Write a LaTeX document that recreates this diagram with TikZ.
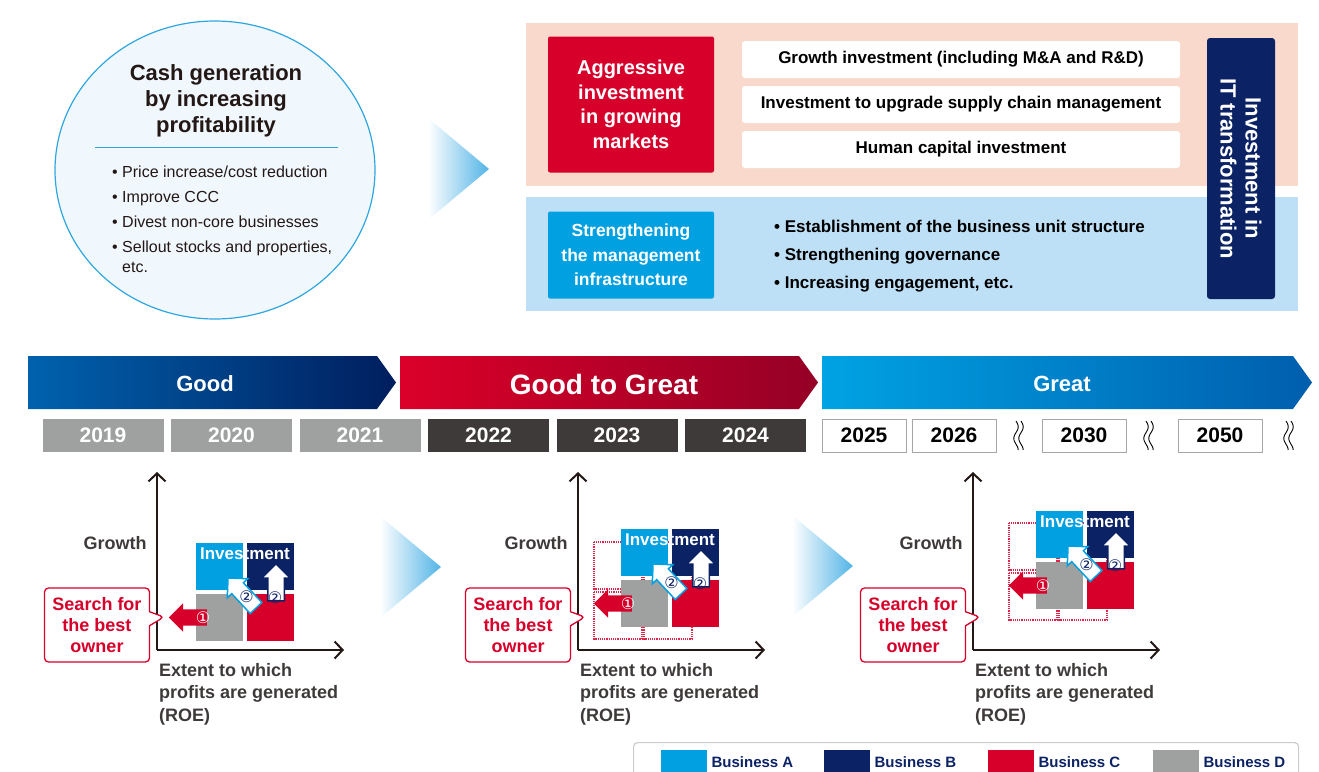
\documentclass[tikz,border=0pt]{standalone}
\usepackage{fontspec}
\setmainfont{Liberation Sans}
\newfontfamily\circnum{DejaVu Sans}
\usepackage{tikz}
\usetikzlibrary{arrows.meta,positioning,shapes.geometric,shapes.arrows,shapes.callouts}

\definecolor{bizA}{HTML}{00A0E1}
\definecolor{bizB}{HTML}{0B2265}
\definecolor{bizC}{HTML}{D7002A}
\definecolor{bizD}{HTML}{9FA0A0}
\definecolor{yeardark}{HTML}{3E3A39}
\definecolor{labelgray}{HTML}{3E3A39}
\definecolor{inkblack}{HTML}{231815}
\definecolor{peach}{HTML}{F8D9CB}
\definecolor{skyband}{HTML}{BEE0F6}
\definecolor{circfill}{HTML}{F0F7FD}
\definecolor{circline}{HTML}{2EA7E0}
\definecolor{chevblue}{HTML}{52B4E6}
\definecolor{goodL}{HTML}{0062AE}
\definecolor{goodR}{HTML}{001E5E}
\definecolor{ggL}{HTML}{DB0029}
\definecolor{ggR}{HTML}{950026}
\definecolor{greatL}{HTML}{00A3E3}
\definecolor{greatR}{HTML}{005EAE}

\newcommand\fsz[2]{\fontsize{#1}{#2}\selectfont}

\begin{document}
\begin{tikzpicture}[x=1pt,y=-1pt,
    quad/.style={minimum size=47pt, inner sep=0pt},
    barlabel/.style={text=white, font=\fsz{22}{22}\bfseries},
    yearbox/.style={minimum width=121pt, minimum height=33pt, inner sep=0pt, text=white, font=\fsz{21}{21}\bfseries},
    pastyear/.style={yearbox, fill=bizD},
    nowyear/.style={yearbox, fill=yeardark},
    nextyear/.style={yearbox, minimum width=84pt, fill=white, draw=gray!70, line width=1pt, text=black},
    planbox/.style={fill=white, rounded corners=3pt, minimum width=438pt, minimum height=37pt, font=\fsz{17}{17}\bfseries},
    blockarrow/.style={single arrow, single arrow head extend=6pt, single arrow head indent=0pt,
        inner xsep=0pt, inner ysep=8pt},
    sellarrow/.style={blockarrow, rotate=180, fill=bizC, minimum height=38pt},
    growarrow/.style={blockarrow, rotate=90, fill=white, draw=bizB, line width=1.5pt, inner ysep=7.5pt, minimum height=37pt},
    shiftarrow/.style={fill=white, draw=bizA, line width=1.5pt, line join=miter},
    stepnum/.style={inner sep=0pt, font=\circnum\fsz{16}{16}, text=bizB},
    oldpos/.style={draw=bizC!85, densely dotted, line width=1.2pt},
    axisline/.style={draw=inkblack, line width=2pt, -{Straight Barb[length=8pt,width=17pt]}},
    callbox/.style={rectangle callout, draw=bizC, fill=white, line width=1.3pt, rounded corners=4pt,
        minimum width=105pt, minimum height=74pt, callout pointer width=14pt,
        text=bizC, align=center, font=\fsz{18}{21}\bfseries}
  ]
  \useasboundingbox (0,0) rectangle (1319,771);

  % cash generation circle
  \node[ellipse, minimum width=320pt, minimum height=298pt, draw=circline, fill=circfill, line width=1.2pt] (cash) at (215,170) {};
  \node[font=\fsz{22}{26}\bfseries, align=center, text=inkblack] (cashtitle) at (216,101) {Cash generation\\by increasing\\profitability};
  \draw[circline, line width=1pt] (95,147) -- (338,147);
  \node[anchor=north west, align=left, inner sep=0pt, font=\fsz{16}{25}, text=inkblack] (cashways) at (112,166)
    {\textbullet\ Price increase/cost reduction\\
     \textbullet\ Improve CCC\\
     \textbullet\ Divest non-core businesses\\
     \textbullet\ Sellout stocks and properties,\\[-5pt]
     \phantom{\textbullet\ }etc.};

  % light chevrons
  \shade[left color=white, right color=chevblue] (428,118) -- (489,169) -- (428,220) -- cycle;
  \shade[left color=white, right color=chevblue] (380,516) -- (441,567) -- (380,618) -- cycle;
  \shade[left color=white, right color=chevblue] (792,515) -- (853,566) -- (792,617) -- cycle;

  % investment bands
  \node[fill=peach, minimum width=772pt, minimum height=163pt, anchor=north west, inner sep=0pt] (growband) at (526,23) {};
  \node[fill=skyband, minimum width=772pt, minimum height=114pt, anchor=north west, inner sep=0pt] (baseband) at (526,197) {};

  \node[fill=bizC, rounded corners=2pt, minimum width=166pt, minimum height=136pt, text=white, align=center,
        font=\fsz{20}{24.5}\bfseries] (aggressive) at (631,104.5) {Aggressive\\investment\\in growing\\markets};
  \node[planbox] (plan1) at (961,59.5) {Growth investment (including M\&A and R\&D)};
  \node[planbox] (plan2) at (961,104.5) {Investment to upgrade supply chain management};
  \node[planbox] (plan3) at (961,149.5) {Human capital investment};

  \node[fill=bizA, rounded corners=2pt, minimum width=166pt, minimum height=87pt, text=white, align=center,
        font=\fsz{17.5}{24.5}\bfseries] (strength) at (631,255) {Strengthening\\the management\\infrastructure};
  \node[anchor=west, align=left, inner sep=0pt, font=\fsz{17}{28}\bfseries, text=black] (stlist) at (774,256)
    {\textbullet\ Establishment of the business unit structure\\
     \textbullet\ Strengthening governance\\
     \textbullet\ Increasing engagement, etc.};

  \node[fill=bizB, rounded corners=3pt, minimum width=261pt, minimum height=68pt, rotate=-90, text=white, align=center,
        font=\fsz{22}{25}\bfseries] (itbox) at (1241,168.5) {Investment in\\IT transformation};

  % phase bars
  \shade[left color=goodL, right color=goodR] (28,356) -- (377,356) -- (396,382.5) -- (377,409) -- (28,409) -- cycle;
  \shade[left color=ggL, right color=ggR] (400,356) -- (799,356) -- (818,382.5) -- (799,409) -- (400,409) -- cycle;
  \shade[left color=greatL, right color=greatR] (822,356) -- (1293,356) -- (1312,382.5) -- (1293,409) -- (822,409) -- cycle;
  \node[barlabel] (good) at (205,384) {Good};
  \node[barlabel, font=\fsz{28}{28}\bfseries] (goodgreat) at (604,384) {Good to Great};
  \node[barlabel] (great) at (1062,384) {Great};

  % years
  \foreach \yr/\cx/\sty in {2019/103/pastyear, 2020/231.5/pastyear, 2021/360/pastyear,
                            2022/488.5/nowyear, 2023/617/nowyear, 2024/745.5/nowyear,
                            2025/864/nextyear, 2026/954/nextyear, 2030/1084/nextyear, 2050/1220/nextyear}
    \node[\sty] (y\yr) at (\cx,435.5) {\yr};
  \foreach \sx in {1016,1146,1286}
    \foreach \dx in {0,5}
      \draw[line width=0.9pt] plot[domain=0:1, samples=30, smooth, variable=\t] ({\sx+\dx+2.2*sin(450*\t)}, {421+29*\t});

  % earlier positions of the portfolio
  \foreach \ox/\oy in {594/542, 1009/523}
    \foreach \dx/\dy in {0/0, 50/0, 0/50, 50/50}
      \draw[oldpos] (\ox+\dx,\oy+\dy) rectangle ++(48,47);

  % portfolio charts
  \foreach \p/\ax/\qx/\qy in {1/157/196/543, 2/578/621/529, 3/973/1036/511} {
    \coordinate (o\p) at (\ax,650);
    \draw[axisline] (o\p) -- (\ax,472);
    \draw[axisline] (o\p) -- (\ax+187,650);
    \node[font=\fsz{18}{18}\bfseries, text=labelgray] (growth\p) at (\ax-42,543) {Growth};
    \node[anchor=north west, align=left, inner sep=0pt, font=\fsz{18}{22.5}\bfseries, text=labelgray] (roe\p) at (\ax+2,663)
      {Extent to which\\profits are generated\\(ROE)};
    \node[callbox, callout absolute pointer={(\ax+7,617)}] (owner\p) at (\ax-60,625) {Search for\\the best\\owner};
    \begin{scope}[shift={(\qx,\qy)}]
      \node[quad, fill=bizA] (qa\p) at (23.5,23.5) {};
      \node[quad, fill=bizB] (qb\p) at (74.5,23.5) {};
      \node[quad, fill=bizD] (qd\p) at (23.5,74.5) {};
      \node[quad, fill=bizC] (qc\p) at (74.5,74.5) {};
      \node[font=\fsz{17}{17}\bfseries, text=white] (inv\p) at (49,11) {Investment};
      \node[sellarrow] (sell\p) at (-4,74.5) {};
      % A-bound arrow, tip up-left
      \filldraw[shiftarrow] (65.9,59.5) -- (47.4,39.8) -- (51.8,35.7) -- (32,35)
        -- (31.3,54.8) -- (35.7,50.7) -- (54.2,70.5) -- cycle;
      \node[growarrow] (grow\p) at (80,43.5) {};
      \node[stepnum, text=white] (one\p) at (7,75) {①};
      \node[stepnum] (twoa\p) at (50.5,54) {②};
      \node[stepnum] (twob\p) at (79,55) {②};
    \end{scope}
  }

  % legend
  \node[draw=gray!40, line width=1.2pt, rounded corners=4pt, minimum width=665pt, minimum height=50pt,
        anchor=north west, inner sep=0pt] (legend) at (633,742) {};
  \foreach \b/\c/\lx in {A/bizA/661, B/bizB/824, C/bizC/988, D/bizD/1153} {
    \node[fill=\c, minimum width=46pt, minimum height=24pt, anchor=north west, inner sep=0pt] (sw\b) at (\lx,750) {};
    \node[right=4pt of sw\b, inner sep=0pt, font=\fsz{15}{15}\bfseries, text=bizB] (lg\b) {Business \b};
  }
\end{tikzpicture}
\end{document}
